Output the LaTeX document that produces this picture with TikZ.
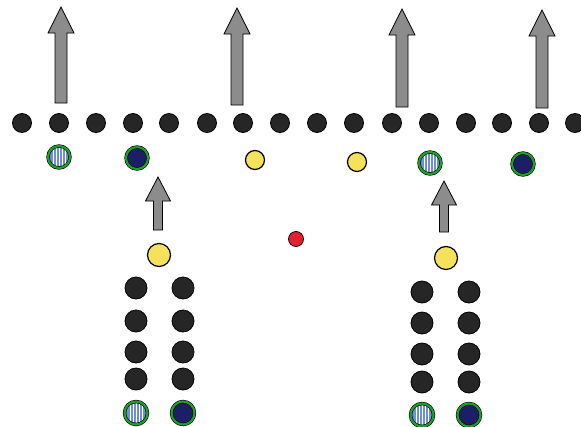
\documentclass[tikz,border=0pt]{standalone}
\definecolor{dotblack}{HTML}{262626}
\definecolor{ringgreen}{HTML}{1E9E2A}
\definecolor{stripeblue}{HTML}{6E8FD8}
\definecolor{navyfill}{HTML}{1C1F66}
\definecolor{yellowfill}{HTML}{F6E25A}
\definecolor{redfill}{HTML}{E5202E}
\definecolor{arrowgray}{HTML}{8C8C8C}
\begin{document}
\begin{tikzpicture}[x=1pt,y=-1pt,
  lineman/.style={circle, draw=black, line width=0.8pt, fill=dotblack, minimum size=19pt, inner sep=0pt},
  back/.style={circle, draw=black, line width=0.8pt, fill=dotblack, minimum size=22pt, inner sep=0pt},
  ringed/.style={circle, draw=black, line width=0.6pt, double=ringgreen, double distance=2.2pt, inner sep=0pt, minimum size=#1},
  striped/.style={ringed=#1, fill=stripeblue,
    path picture={\foreach \dx in {-6,-3,0,3,6}{\draw[white, line width=1pt] ([xshift=\dx pt]path picture bounding box.south) -- ([xshift=\dx pt]path picture bounding box.north);}}},
  navy/.style={ringed=#1, fill=navyfill},
  yellowdot/.style={circle, draw=black, line width=1.2pt, fill=yellowfill, inner sep=0pt, minimum size=#1},
  reddot/.style={circle, draw=black, line width=0.8pt, fill=redfill, inner sep=0pt, minimum size=15pt},
  arrowstyle/.style={draw=black, line width=0.8pt, fill=arrowgray, line join=miter}]
\useasboundingbox (0,0) rectangle (581,426);
\fill[white] (0,0) rectangle (581,426);

\newcommand\blockarrow[6]{%
  \draw[arrowstyle] (#1,#2) -- ({#1+#4},{#2+#6}) -- ({#1+#5},{#2+#6}) -- ({#1+#5},#3)
    -- ({#1-#5},#3) -- ({#1-#5},{#2+#6}) -- ({#1-#4},{#2+#6}) -- cycle;}

% big arrows
\blockarrow{61}{7}{103}{13}{6}{26}
\blockarrow{237}{8}{105}{13}{6}{26}
\blockarrow{402}{9}{107}{13}{6}{26}
\blockarrow{542}{10}{108}{13}{6}{26}
% small arrows
\blockarrow{158}{177}{230}{12.5}{4.5}{24}
\blockarrow{444}{181}{232}{12.5}{4.5}{24}

% line of scrimmage
\foreach \x [count=\i] in {22,59,96,133,169,207,243,280,317,354,392,429,466,502,539,575}
  \node[lineman] (l\i) at (\x,123) {};

% second row
\node[striped=22pt] (s1) at (59,157) {};
\node[navy=22pt] (s2) at (137,158) {};
\node[yellowdot=19pt] (s3) at (255,160) {};
\node[yellowdot=19pt] (s4) at (357,162) {};
\node[striped=22pt] (s5) at (430,163) {};
\node[navy=22pt] (s6) at (523,164) {};

% yellow backs and ball
\node[yellowdot=23pt] (y1) at (159,255) {};
\node[yellowdot=23pt] (y2) at (446,258) {};
\node[reddot] (ball) at (296,239) {};

% left formation
\foreach \y [count=\j] in {288,321,352,379}{
  \node[back] (la\j) at (136,\y) {};
  \node[back] (lb\j) at (183,\y) {};
}
\node[striped=23pt] (la5) at (136,413) {};
\node[navy=23pt] (lb5) at (183,413) {};

% right formation
\foreach \y [count=\j] in {292,323,354,382}{
  \node[back] (ra\j) at (422,\y) {};
  \node[back] (rb\j) at (469,\y) {};
}
\node[striped=23pt] (ra5) at (422,415) {};
\node[navy=23pt] (rb5) at (469,415) {};
\end{tikzpicture}
\end{document}
